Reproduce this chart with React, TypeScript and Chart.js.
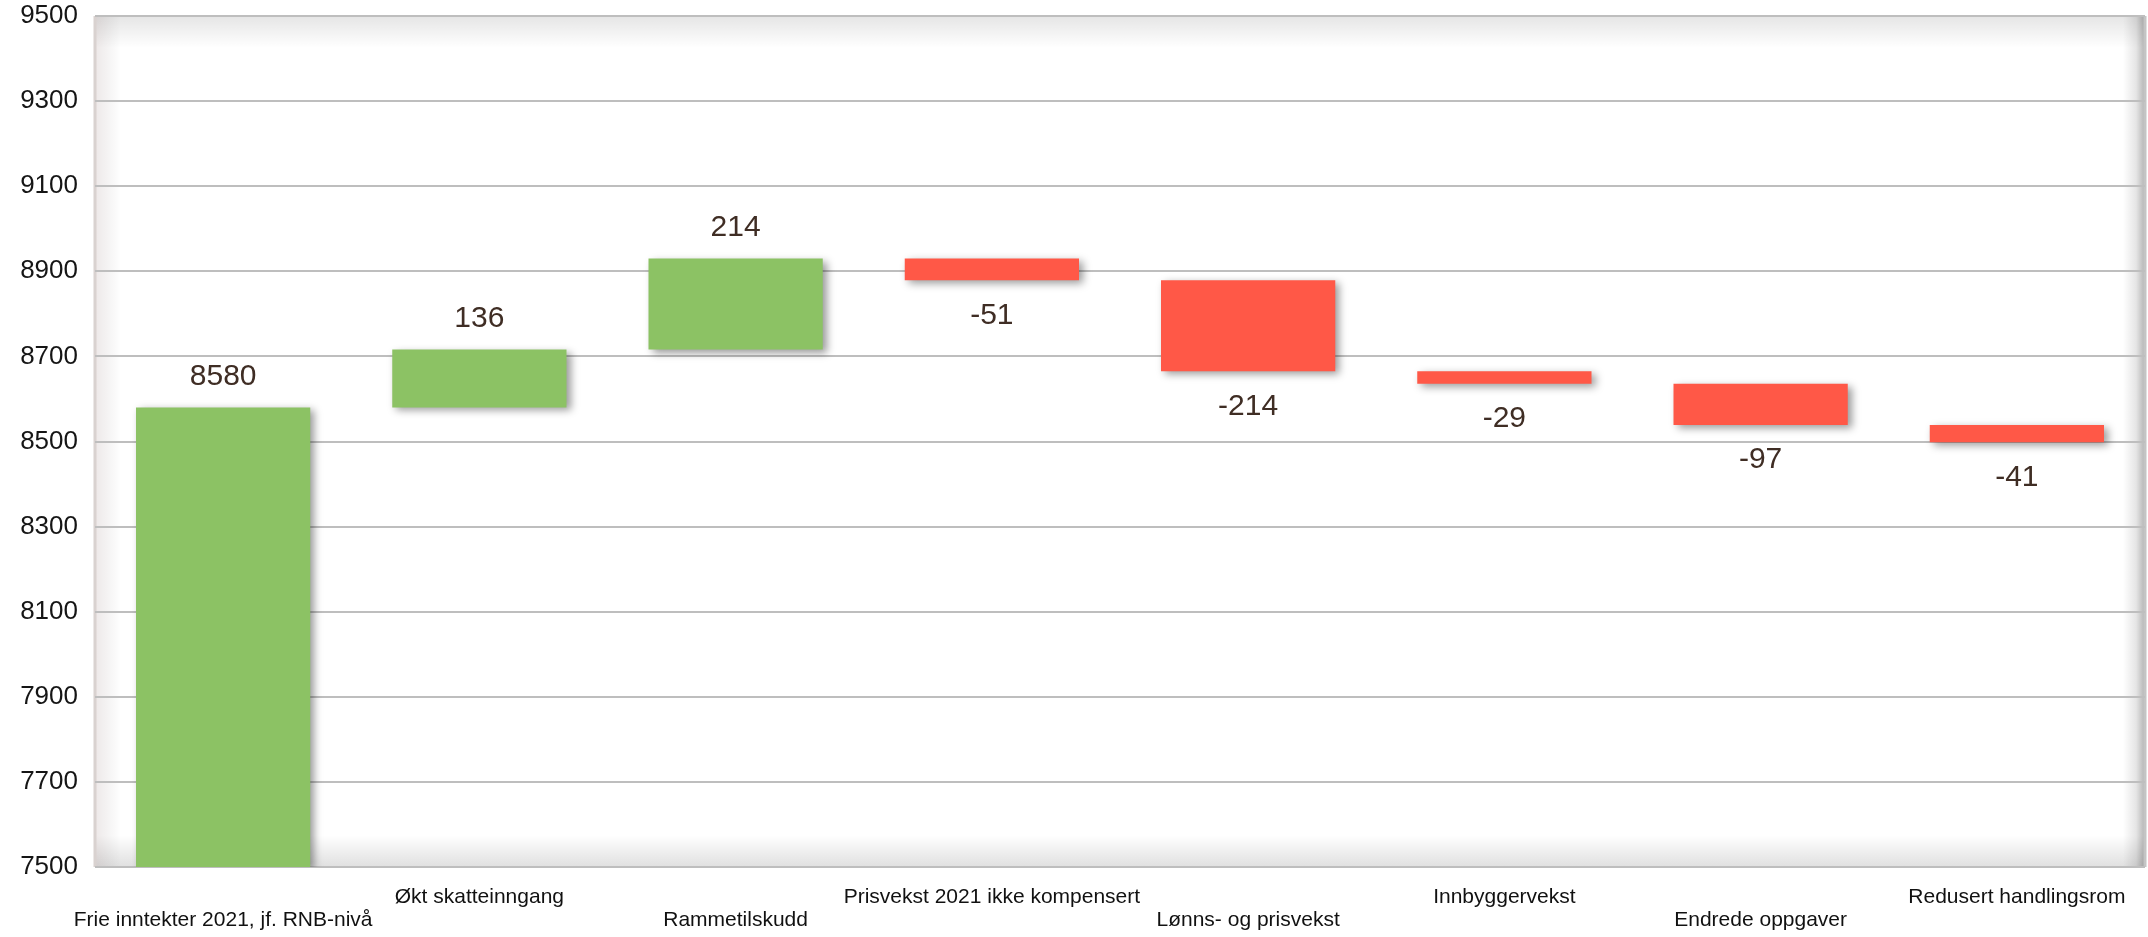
import React, { useEffect, useRef } from 'react';
import { Chart, registerables } from 'chart.js';

Chart.register(...registerables);

const categories = [
  'Frie inntekter 2021, jf. RNB-nivå',
  'Økt skatteinngang',
  'Rammetilskudd',
  'Prisvekst 2021 ikke kompensert',
  'Lønns- og prisvekst',
  'Innbyggervekst',
  'Endrede oppgaver',
  'Redusert handlingsrom',
];
const changes = [8580, 136, 214, -51, -214, -29, -97, -41];
const yMin = 7500;
const yMax = 9500;
const yStep = 200;

const GREEN = '#8CC264';
const RED = '#FF5847';
const LABEL_COLOR = '#3F2D24';
const FONT = '"Liberation Sans", Arial, Helvetica, sans-serif';

function buildRanges(): [number, number][] {
  const out: [number, number][] = [];
  let level = 0;
  changes.forEach((v, i) => {
    if (i === 0) {
      out.push([yMin, v]);
      level = v;
    } else {
      out.push([level, level + v]);
      level += v;
    }
  });
  return out;
}

const framePlugin = {
  id: 'frame',
  beforeDraw(chart: any) {
    const { ctx, chartArea: a } = chart;
    ctx.save();
    ctx.fillStyle = '#ffffff';
    ctx.fillRect(a.left, a.top, a.right - a.left, a.bottom - a.top);
    let g = ctx.createLinearGradient(0, a.top, 0, a.top + 32);
    g.addColorStop(0, 'rgba(0,0,0,0.10)');
    g.addColorStop(1, 'rgba(0,0,0,0)');
    ctx.fillStyle = g;
    ctx.fillRect(a.left, a.top, a.right - a.left, 32);
    g = ctx.createLinearGradient(0, a.bottom, 0, a.bottom - 32);
    g.addColorStop(0, 'rgba(0,0,0,0.12)');
    g.addColorStop(1, 'rgba(0,0,0,0)');
    ctx.fillStyle = g;
    ctx.fillRect(a.left, a.bottom - 32, a.right - a.left, 32);
    g = ctx.createLinearGradient(a.left, 0, a.left + 26, 0);
    g.addColorStop(0, 'rgba(60,0,0,0.09)');
    g.addColorStop(1, 'rgba(0,0,0,0)');
    ctx.fillStyle = g;
    ctx.fillRect(a.left, a.top, 26, a.bottom - a.top);
    g = ctx.createLinearGradient(a.right, 0, a.right - 22, 0);
    g.addColorStop(0, 'rgba(0,0,0,0.30)');
    g.addColorStop(0.4, 'rgba(0,0,0,0.10)');
    g.addColorStop(1, 'rgba(0,0,0,0)');
    ctx.fillStyle = g;
    ctx.fillRect(a.right - 22, a.top, 22, a.bottom - a.top);
    ctx.lineWidth = 3;
    ctx.strokeStyle = '#D9D2D0';
    ctx.beginPath();
    ctx.moveTo(a.left, a.top);
    ctx.lineTo(a.left, a.bottom);
    ctx.stroke();
    ctx.strokeStyle = '#C4C4C4';
    ctx.beginPath();
    ctx.moveTo(a.right, a.top);
    ctx.lineTo(a.right, a.bottom);
    ctx.stroke();
    ctx.restore();
  },
};

const shadowPlugin = {
  id: 'barShadow',
  beforeDatasetDraw(chart: any) {
    const ctx = chart.ctx;
    ctx.save();
    ctx.shadowColor = 'rgba(0,0,0,0.40)';
    ctx.shadowBlur = 8;
    ctx.shadowOffsetX = 4;
    ctx.shadowOffsetY = 3;
  },
  afterDatasetDraw(chart: any) {
    chart.ctx.restore();
  },
};

const labelPlugin = {
  id: 'valueLabels',
  afterDatasetsDraw(chart: any) {
    const { ctx } = chart;
    const meta = chart.getDatasetMeta(0);
    ctx.save();
    ctx.font = `30px ${FONT}`;
    ctx.fillStyle = LABEL_COLOR;
    ctx.textAlign = 'center';
    ctx.textBaseline = 'middle';
    meta.data.forEach((bar: any, i: number) => {
      const v = changes[i];
      const top = Math.min(bar.y, bar.base);
      const bottom = Math.max(bar.y, bar.base);
      const y = v >= 0 ? top - 31 : bottom + 35;
      ctx.fillText(String(v), bar.x, y);
    });
    ctx.restore();
  },
};

export default function App() {
  const ref = useRef<HTMLCanvasElement | null>(null);

  useEffect(() => {
    document.body.style.margin = '0';
    const canvas = ref.current;
    if (!canvas) return;
    const ranges = buildRanges();
    const chart = new Chart(canvas, {
      type: 'bar',
      data: {
        labels: categories.map((c, i) => (i % 2 === 0 ? ['', c] : [c])),
        datasets: [
          {
            data: ranges as any,
            backgroundColor: changes.map((v) => (v >= 0 ? GREEN : RED)),
            borderWidth: 0,
            barPercentage: 0.68,
            categoryPercentage: 1,
          },
        ],
      },
      options: {
        responsive: false,
        animation: false,
        events: [],
        layout: { padding: { top: 16, right: 3, left: 0, bottom: 0 } },
        plugins: { legend: { display: false }, tooltip: { enabled: false } },
        scales: {
          x: {
            grid: { display: false, drawTicks: false },
            border: { display: false },
            afterFit: (s: any) => {
              s.height = 70;
              s.paddingLeft = 0;
              s.paddingRight = 0;
            },
            ticks: {
              autoSkip: false,
              maxRotation: 0,
              minRotation: 0,
              padding: 19,
              color: '#111111',
              font: { family: FONT, size: 21, lineHeight: 1.1 },
            },
          },
          y: {
            min: yMin,
            max: yMax,
            grid: { color: '#BEBEBE', lineWidth: 2, drawTicks: false },
            border: { display: false },
            afterFit: (s: any) => {
              s.width = 95;
              s.paddingTop = 0;
              s.paddingBottom = 0;
            },
            ticks: {
              stepSize: yStep,
              padding: 17,
              color: '#151515',
              font: { family: FONT, size: 26, lineHeight: 1 },
              callback: (v: any) => String(v),
            },
          },
        },
      },
      plugins: [framePlugin, shadowPlugin, labelPlugin],
    });
    return () => chart.destroy();
  }, []);

  return (
    <div style={{ width: 2148, height: 937, background: '#ffffff' }}>
      <canvas ref={ref} width={2148} height={937} style={{ display: 'block' }} />
    </div>
  );
}
